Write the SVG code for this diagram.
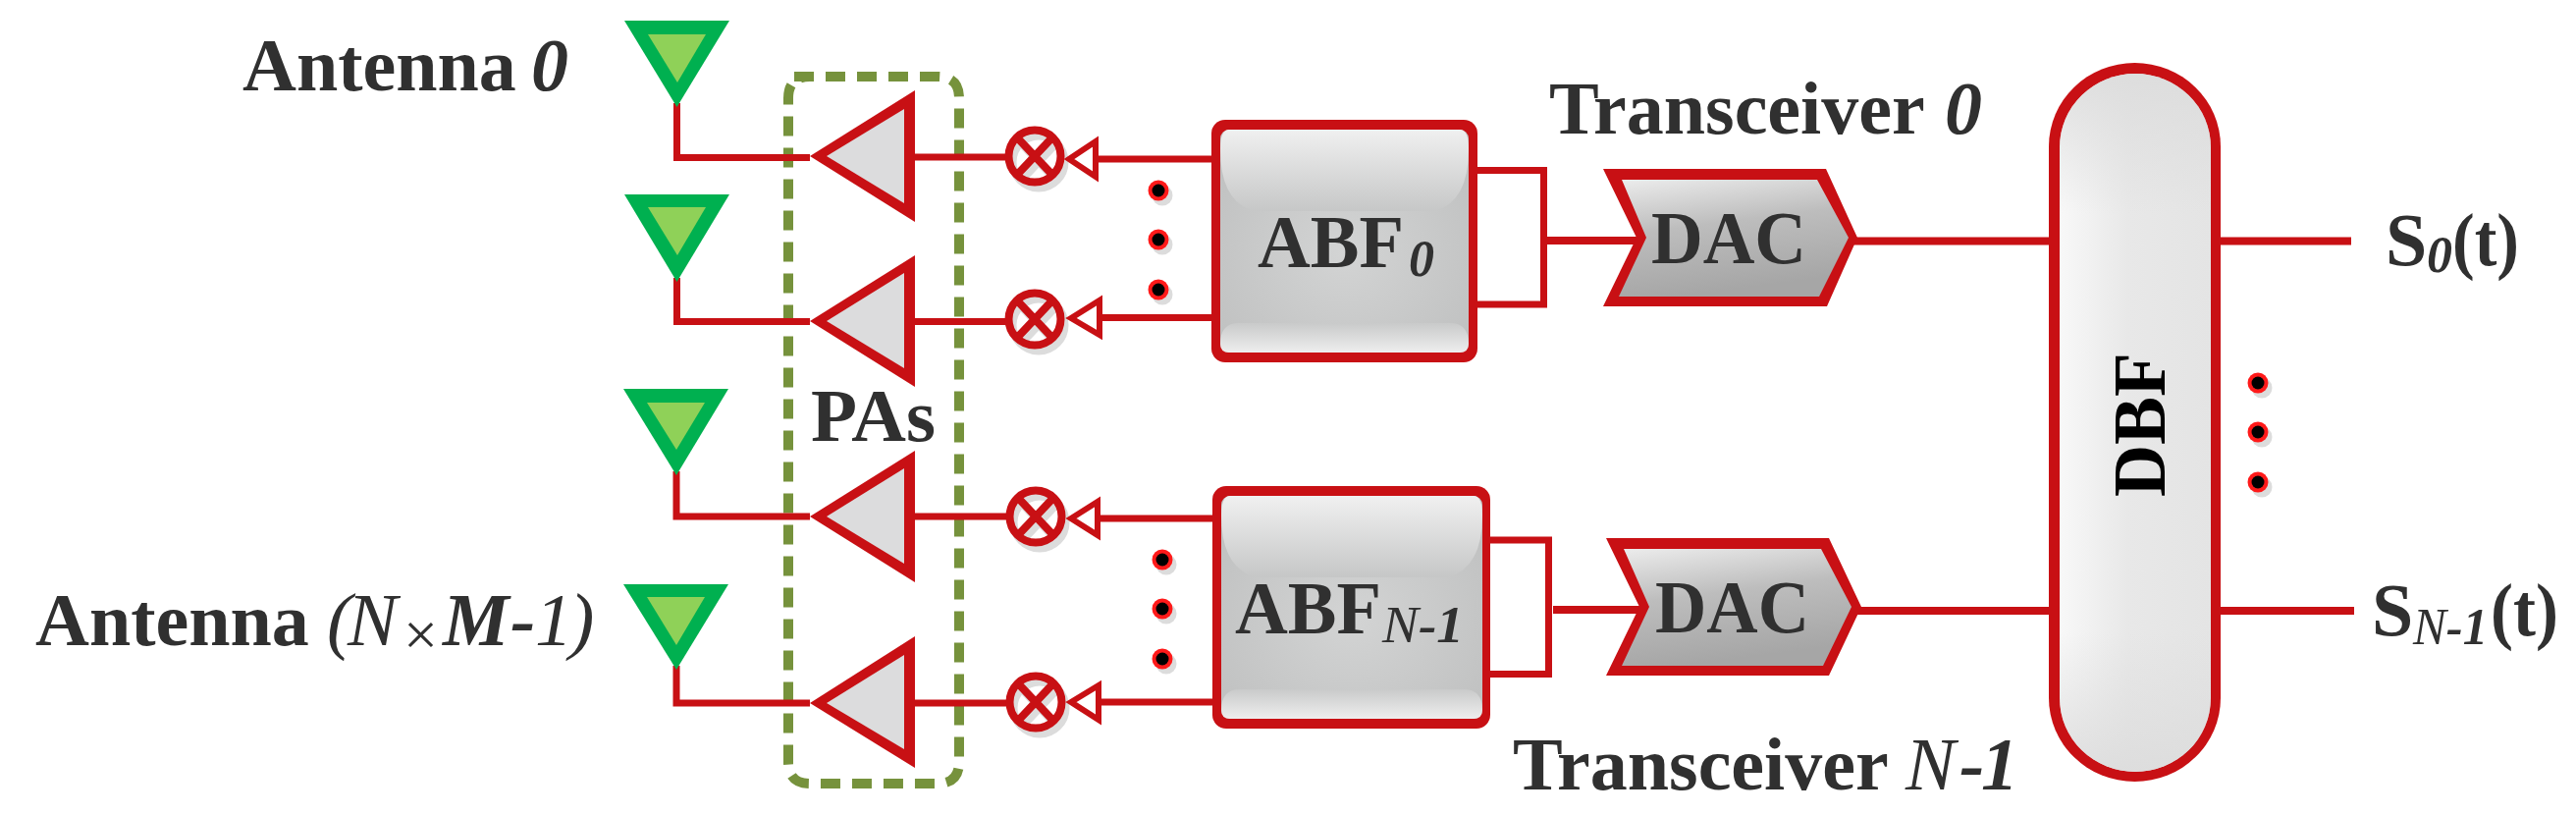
<svg xmlns="http://www.w3.org/2000/svg" xmlns:xlink="http://www.w3.org/1999/xlink" width="2624" height="830" viewBox="0 0 2624 830">
<style>
text{font-family:"Liberation Serif","Times New Roman",serif;font-weight:700;fill:#303030;font-size:76px}
.sub{font-size:52px}
.i{font-style:italic}
.n{font-weight:400}
.w{fill:none;stroke:#c81014;stroke-linejoin:miter}
.ant{fill:#00b050}
.antin{fill:#8fd158}
.pa{fill:#c81014}
.pain{fill:#dcdcdd}
.arr{fill:#fff;stroke:#c81014;stroke-width:6}
.red{fill:#c81014}
</style>
<defs>
<linearGradient id="abfTop" x1="0" y1="0" x2="0" y2="1"><stop offset="0" stop-color="#f0f0f0"/><stop offset="1" stop-color="#c6c7c7"/></linearGradient>
<linearGradient id="abfBot" x1="0" y1="0" x2="0" y2="1"><stop offset="0" stop-color="#c9caca"/><stop offset="1" stop-color="#eeeeee"/></linearGradient>
<radialGradient id="abfMid" cx="0.5" cy="0.55" r="0.6"><stop offset="0" stop-color="#d3d4d4"/><stop offset="1" stop-color="#c1c2c2"/></radialGradient>
<linearGradient id="dacG" x1="0" y1="0" x2="0.25" y2="1"><stop offset="0" stop-color="#ececec"/><stop offset="0.45" stop-color="#bdbdbd"/><stop offset="1" stop-color="#a6a6a6"/></linearGradient>
<linearGradient id="dbfG" x1="0" y1="0" x2="1" y2="0"><stop offset="0" stop-color="#f8f8f8"/><stop offset="0.45" stop-color="#e8e8e8"/><stop offset="1" stop-color="#e4e4e4"/></linearGradient>
<linearGradient id="dbfV" x1="0" y1="0" x2="0" y2="1"><stop offset="0" stop-color="#dcdcdc" stop-opacity="0.9"/><stop offset="0.2" stop-color="#dcdcdc" stop-opacity="0"/><stop offset="0.8" stop-color="#dcdcdc" stop-opacity="0"/><stop offset="1" stop-color="#dcdcdc" stop-opacity="0.9"/></linearGradient>
<g id="mixer">
<g transform="translate(4,6)" fill="none" stroke="#dcdcdc" stroke-width="8"><circle r="26.500"/><path d="M-18-19L18 19M18-19L-18 19"/></g>
<g fill="none" stroke="#c81014" stroke-width="8"><circle r="26.500"/><path d="M-18-19L18 19M18-19L-18 19"/></g>
</g>
<g id="dot">
<circle cx="4" cy="5" r="10.500" fill="#dcdcdc"/>
<circle r="10.500" fill="#ff1a1a"/>
<circle r="6.500" fill="#000"/>
</g>
</defs>
<rect width="2624" height="830" fill="#fff"/>

<g id="pa-group-box"><path d="M809 78H955Q977 78 977 100V776Q977 798 955 798H825Q803 798 803 776V100Q803 78 825 78Z" fill="none" stroke="#76923c" stroke-width="10" stroke-dasharray="20 12"/></g>

<g id="connectors">
<path class="w" stroke-width="7" d="M689.500 105V160.500H825"/>
<path class="w" stroke-width="7" d="M689.500 283V327.500H825"/>
<path class="w" stroke-width="7" d="M689 480V526H825"/>
<path class="w" stroke-width="7" d="M689 678V716H825"/>
<path class="w" stroke-width="7" d="M932 160H1030M932 327.500H1030M932 526H1030M932 716H1030"/>
<path class="w" stroke-width="7" d="M1119 162H1234M1123 323.500H1234M1121 528H1235M1122 715H1235"/>
<path class="w" stroke-width="7" d="M1505 173.500H1572.500V310H1505"/>
<path class="w" stroke-width="7" d="M1518 550H1577.500V686.500H1518"/>
<path class="w" stroke-width="8" d="M1576 245H1670M1582 621H1672"/>
<path class="w" stroke-width="8" d="M1888 245.500H2087M2262 245.500H2395M1892 622H2087M2262 622H2398"/>
</g>

<g id="antenna-0"><polygon class="ant" points="636,21 743,21 689.500,109"/><polygon class="antin" points="660,35 719,35 690,84"/></g>
<g id="antenna-1"><polygon class="ant" points="636,198 743,198 689.500,287"/><polygon class="antin" points="660,211 719,211 690,260"/></g>
<g id="antenna-2"><polygon class="ant" points="635,396 742,396 689,484"/><polygon class="antin" points="659,410 718,410 689,458"/></g>
<g id="antenna-3"><polygon class="ant" points="635,595 742,595 689,682"/><polygon class="antin" points="659,608 718,608 689,657"/></g>

<g id="pa-0"><polygon class="pa" points="825,159 932,92 932,226"/><polygon class="pain" points="842,159 921,111 921,207"/></g>
<g id="pa-1"><polygon class="pa" points="825,327 932,260 932,394"/><polygon class="pain" points="842,327 921,278 921,375"/></g>
<g id="pa-2"><polygon class="pa" points="825,526 932,459 932,593"/><polygon class="pain" points="842,526 921,477 921,574"/></g>
<g id="pa-3"><polygon class="pa" points="825,716 932,648 932,782"/><polygon class="pain" points="842,716 921,667 921,763"/></g>

<g id="mixer-0"><use xlink:href="#mixer" href="#mixer" x="1054" y="159"/><polygon class="arr" points="1089,162 1116,144 1116,180"/></g>
<g id="mixer-1"><use xlink:href="#mixer" href="#mixer" x="1054" y="325"/><polygon class="arr" points="1091,324 1120,306 1120,341"/></g>
<g id="mixer-2"><use xlink:href="#mixer" href="#mixer" x="1055" y="526"/><polygon class="arr" points="1091,528 1118,511 1118,545"/></g>
<g id="mixer-3"><use xlink:href="#mixer" href="#mixer" x="1055" y="715"/><polygon class="arr" points="1091,715 1119,698 1119,733"/></g>

<g id="dots-upper"><use xlink:href="#dot" href="#dot" x="1180" y="194"/><use xlink:href="#dot" href="#dot" x="1180" y="244"/><use xlink:href="#dot" href="#dot" x="1180" y="295"/></g>
<g id="dots-lower"><use xlink:href="#dot" href="#dot" x="1184" y="570"/><use xlink:href="#dot" href="#dot" x="1184" y="620"/><use xlink:href="#dot" href="#dot" x="1184" y="671"/></g>
<g id="dots-right"><use xlink:href="#dot" href="#dot" x="2300" y="390"/><use xlink:href="#dot" href="#dot" x="2300" y="440"/><use xlink:href="#dot" href="#dot" x="2300" y="491"/></g>

<g id="abf-0">
<rect x="1234" y="122" width="271" height="247" rx="14" class="red"/>
<rect x="1243" y="132" width="253" height="227" rx="9" fill="url(#abfMid)"/>
<path d="M1243 152Q1243 132 1252 132H1487Q1496 132 1496 152Q1496 205 1462 215H1277Q1243 205 1243 152Z" fill="url(#abfTop)"/>
<path d="M1243 350Q1243 329 1262 329H1477Q1496 329 1496 350Q1496 359 1487 359H1252Q1243 359 1243 350Z" fill="url(#abfBot)"/>
<text x="1281" y="272" textLength="149" lengthAdjust="spacingAndGlyphs">ABF</text>
<text class="sub i" x="1435" y="281">0</text>
</g>
<g id="abf-1">
<rect x="1235" y="495" width="283" height="247" rx="14" class="red"/>
<rect x="1244" y="505" width="266" height="227" rx="9" fill="url(#abfMid)"/>
<path d="M1244 525Q1244 505 1253 505H1501Q1510 505 1510 525Q1510 578 1475 588H1279Q1244 578 1244 525Z" fill="url(#abfTop)"/>
<path d="M1244 723Q1244 702 1263 702H1491Q1510 702 1510 723Q1510 732 1501 732H1253Q1244 732 1244 723Z" fill="url(#abfBot)"/>
<text x="1258" y="645" textLength="149" lengthAdjust="spacingAndGlyphs">ABF</text>
<text class="sub i" x="1408" y="654" textLength="83" lengthAdjust="spacingAndGlyphs"><tspan class="n">N</tspan>-1</text>
</g>

<g id="dac-0">
<polygon class="red" points="1633,172 1860,172 1892,242 1861,312 1633,312 1667,242"/>
<polygon points="1652,183 1851,183 1883,242 1853,302 1649,302 1677,242" fill="url(#dacG)"/>
<text x="1682" y="268" textLength="158" lengthAdjust="spacingAndGlyphs">DAC</text>
</g>
<g id="dac-1">
<polygon class="red" points="1636,548 1863,548 1896,618 1863,688 1636,688 1670,618"/>
<polygon points="1654,559 1855,559 1886,618 1857,678 1652,678 1680,618" fill="url(#dacG)"/>
<text x="1686" y="644" textLength="157" lengthAdjust="spacingAndGlyphs">DAC</text>
</g>

<g id="dbf">
<rect x="2087" y="64" width="175" height="732" rx="87.500" ry="85" class="red"/>
<rect x="2098" y="75" width="154" height="711" rx="77" ry="75" fill="url(#dbfG)"/>
<rect x="2098" y="75" width="154" height="711" rx="77" ry="75" fill="url(#dbfV)"/>
<text x="0" y="0" transform="translate(2205,506) rotate(-90)" style="fill:#000" textLength="147" lengthAdjust="spacingAndGlyphs">DBF</text>
</g>

<g id="labels">
<text x="247" y="92">Antenna</text><text class="i" x="541" y="92">0</text>
<text x="36" y="657">Antenna</text>
<text class="i n" x="333" y="657">(</text>
<text class="i n" x="354" y="657">N</text>
<text class="n" x="411" y="667" style="font-size:62px">×</text>
<text class="i" x="451" y="657">M</text>
<text class="i" x="520" y="657">-</text>
<text class="i n" x="545" y="657">1</text>
<text class="i n" x="580" y="657">)</text>
<text x="826" y="449" textLength="127" lengthAdjust="spacingAndGlyphs">PAs</text>
<text x="1578" y="136">Transceiver</text><text class="i" x="1981" y="136">0</text>
<text x="1541" y="804">Transceiver</text>
<text class="i n" x="1941" y="804">N</text><text class="i" x="1996" y="804">-</text><text class="i" x="2018" y="804">1</text>
<text x="2430" y="270">S</text><text class="sub i" x="2472" y="277">0</text><text x="2498" y="270" textLength="68" lengthAdjust="spacingAndGlyphs">(t)</text>
<text x="2416" y="647">S</text><text class="sub i" x="2458" y="656" textLength="76" lengthAdjust="spacingAndGlyphs"><tspan class="n">N</tspan>-1</text><text x="2537" y="647" textLength="69" lengthAdjust="spacingAndGlyphs">(t)</text>
</g>
</svg>
